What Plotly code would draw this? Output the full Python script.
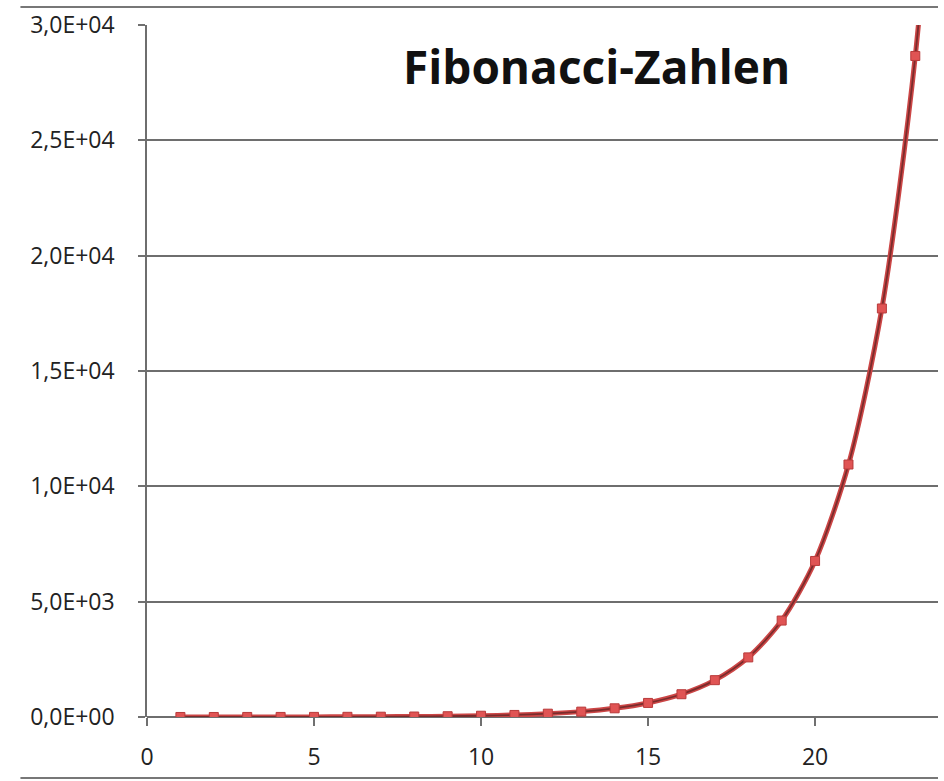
import plotly.graph_objects as go

n_values = [1, 2, 3, 4, 5, 6, 7, 8, 9, 10, 11, 12, 13, 14, 15, 16, 17, 18, 19, 20, 21, 22, 23, 24]
fib_values = [1, 1, 2, 3, 5, 8, 13, 21, 34, 55, 89, 144, 233, 377, 610, 987, 1597, 2584,
              4181, 6765, 10946, 17711, 28657, 46368]

y_tickvals = [0, 5000, 10000, 15000, 20000, 25000, 30000]
y_ticktext = ["0,0E+00", "5,0E+03", "1,0E+04", "1,5E+04", "2,0E+04", "2,5E+04", "3,0E+04"]
x_tickvals = [0, 5, 10, 15, 20]
x_ticktext = ["0", "5", "10", "15", "20"]

title_text = "Fibonacci-Zahlen"

fig = go.Figure()
fig.add_trace(go.Scatter(
    x=n_values, y=fib_values,
    mode="lines",
    line=dict(color="#CC4646", width=5, shape="spline", smoothing=0.8),
    showlegend=False, hoverinfo="skip",
))
fig.add_trace(go.Scatter(
    x=n_values, y=fib_values,
    mode="lines+markers",
    line=dict(color="#7A2C2C", width=1.8, shape="spline", smoothing=0.8),
    marker=dict(symbol="square", size=9, color="#E05454",
                line=dict(color="#B83A3A", width=1)),
    showlegend=False,
))

fig.update_layout(
    width=944, height=781,
    margin=dict(l=147, r=6, t=25, b=64),
    paper_bgcolor="white", plot_bgcolor="white",
    font=dict(family="Open Sans", size=23, color="#222222"),
    xaxis=dict(
        range=[0, 23.68],
        tickvals=x_tickvals, ticktext=x_ticktext,
        showgrid=False, zeroline=False,
        showline=False,
        ticks="outside", ticklen=8, tickwidth=1.5, tickcolor="#707070",
        ticklabelstandoff=11,
        tickfont=dict(size=23, color="#222222"),
    ),
    yaxis=dict(
        range=[0, 30000],
        tickvals=y_tickvals, ticktext=y_ticktext,
        showgrid=True, gridcolor="#6E6E6E", gridwidth=1.5,
        zeroline=True, zerolinecolor="#6E6E6E", zerolinewidth=1.5,
        showline=True, linecolor="#6E6E6E", linewidth=1.5,
        ticks="outside", ticklen=7, tickwidth=1.5, tickcolor="#707070",
        ticklabelstandoff=19,
        tickfont=dict(size=23, color="#222222"),
    ),
    annotations=[dict(
        text="<b>" + title_text + "</b>",
        xref="paper", yref="paper", x=0.568, y=0.941,
        xanchor="center", yanchor="middle", showarrow=False,
        font=dict(family="Open Sans", size=46, color="#111111"),
    )],
    shapes=[
        dict(type="line", xref="paper", yref="paper", x0=-0.16, x1=1.0,
             y0=1.026, y1=1.026, line=dict(color="#777777", width=2)),
        dict(type="line", xref="paper", yref="paper", x0=-0.16, x1=1.0,
             y0=-0.088, y1=-0.088, line=dict(color="#777777", width=2)),
    ],
)

fig.write_html("out.html")
